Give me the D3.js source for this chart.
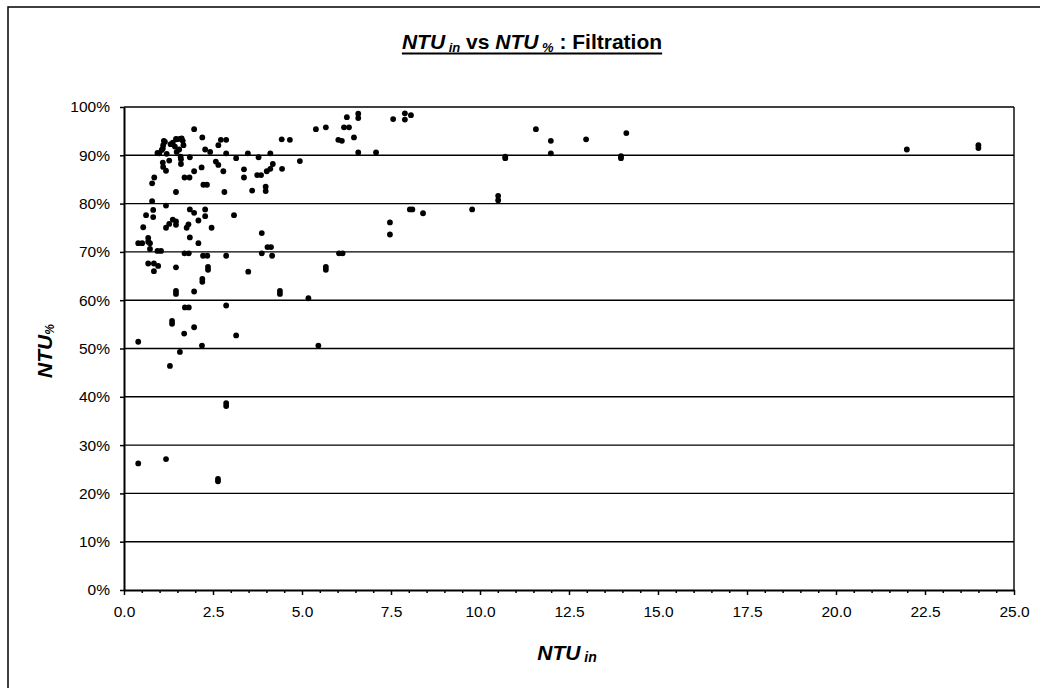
<!DOCTYPE html>
<html>
<head>
<meta charset="utf-8">
<script src="https://cdn.jsdelivr.net/npm/d3@7"></script>
<style>
    body { margin: 0; background: #fff; }
    svg { display: block; font-family: Arial, "Liberation Sans", sans-serif; }
</style>
</head>
<body>
<svg id="chart" width="1040" height="688"></svg>
<script>

// NTU in (x) and NTU % removed (y, as fraction)
const ntuIn = [
    1.97, 2.20, 5.39, 5.67, 6.26, 6.58, 6.58, 6.18, 6.32, 6.46, 6.02, 6.12, 6.58, 7.08, 7.56, 7.89, 8.06, 7.89,
    10.71, 10.71, 11.57, 11.99, 11.99, 12.98, 14.11, 13.96, 13.96, 21.99, 24.00, 24.00, 10.51, 10.51, 9.78,
    8.03, 8.10, 8.40, 7.47, 7.47, 6.04, 6.14, 5.67, 5.67, 5.18, 5.46, 4.94, 4.43, 4.66, 4.11, 4.18, 4.11,
    4.01, 4.44, 3.78, 3.74, 3.85, 3.48, 3.15, 3.37, 3.37, 3.60, 3.98, 3.98, 2.87, 2.58, 2.65, 2.72, 2.87,
    2.65, 2.79, 2.82, 2.28, 2.42, 2.18, 1.97, 1.70, 1.84, 2.23, 2.33, 1.46, 1.85, 0.79, 0.82, 1.18, 0.62,
    0.82, 1.85, 1.97, 2.28, 2.28, 3.09, 1.37, 1.27, 1.46, 2.09, 0.54, 1.18, 1.46, 1.76, 1.81, 2.46, 0.85,
    0.79, 0.40, 0.51, 0.68, 0.68, 0.73, 1.85, 2.09, 0.73, 0.94, 1.04, 1.70, 1.82, 2.22, 2.34, 2.87, 3.87,
    4.03, 4.13, 3.87, 4.16, 0.68, 0.84, 0.96, 0.84, 1.46, 2.36, 2.36, 3.49, 2.20, 2.20, 1.46, 1.46, 1.97,
    4.38, 4.38, 2.87, 1.71, 1.82, 1.35, 1.35, 1.97, 1.69, 3.15, 0.40, 2.19, 1.57, 1.29, 2.87, 2.87, 0.40,
    1.18, 2.64, 2.64, 1.15, 1.10, 1.37, 1.48, 1.57, 1.65, 1.67, 1.43, 1.55, 1.48, 0.99, 0.94, 1.06, 1.20,
    1.27, 1.09, 1.10, 1.18, 1.60, 1.60, 1.12, 1.31, 1.46, 1.62, 1.59, 1.09
];
const ntuPct = [
    .954, .937, .954, .958, .979, .986, .977, .958, .958, .937, .932, .930, .906, .906, .975, .987, .983, .974,
    .894, .897, .954, .930, .904, .933, .946, .894, .898, .912, .921, .915, .816, .807, .788,
    .788, .788, .780, .761, .736, .697, .697, .669, .663, .604, .506, .888, .933, .932, .904, .882, .872,
    .867, .872, .896, .859, .859, .904, .894, .871, .854, .827, .835, .826, .904, .887, .880, .932, .932,
    .921, .867, .824, .912, .907, .875, .867, .854, .854, .839, .839, .824, .896, .805, .787, .796, .776,
    .772, .788, .781, .788, .774, .776, .767, .758, .763, .765, .751, .750, .756, .750, .757, .750, .854,
    .842, .718, .718, .729, .721, .718, .730, .718, .706, .702, .702, .697, .697, .692, .692, .692, .739,
    .710, .710, .697, .692, .676, .676, .671, .660, .668, .669, .663, .659, .644, .638, .619, .613, .618,
    .619, .613, .589, .585, .585, .557, .551, .544, .531, .527, .514, .506, .493, .464, .387, .381, .262,
    .271, .230, .225, .928, .921, .926, .933, .934, .930, .921, .918, .912, .907, .904, .905, .911, .903,
    .889, .885, .876, .868, .892, .882, .930, .923, .934, .935, .897, .914
];

const xTickValues = [0, 2.5, 5, 7.5, 10, 12.5, 15, 17.5, 20, 22.5, 25];
const yTickValues = [0, 0.1, 0.2, 0.3, 0.4, 0.5, 0.6, 0.7, 0.8, 0.9, 1];

let svg = d3.select("#chart");

let plotLeft = 124, plotRight = 1014, plotTop = 107, plotBottom = 590;

let xScale = d3.scaleLinear().domain([0, 25]).range([plotLeft, plotRight]);
let yScale = d3.scaleLinear().domain([0, 1]).range([plotBottom, plotTop]);

// outer chart frame (runs off the page right / bottom)
svg.append("rect")
    .attr("x", 8).attr("y", 7)
    .attr("width", 1100).attr("height", 760)
    .attr("fill", "none")
    .attr("stroke", "#000")
    .attr("stroke-width", 1.5);

// horizontal gridlines
svg.append("g")
    .selectAll("line")
    .data(yTickValues.filter(function (d) { return d > 0; }))
    .enter().append("line")
    .attr("x1", plotLeft).attr("x2", plotRight)
    .attr("y1", function (d) { return yScale(d); })
    .attr("y2", function (d) { return yScale(d); })
    .attr("stroke", "#000")
    .attr("stroke-width", 1.4);

// right edge of plot area
svg.append("line")
    .attr("x1", plotRight).attr("x2", plotRight)
    .attr("y1", plotTop).attr("y2", plotBottom)
    .attr("stroke", "#000").attr("stroke-width", 1.4);

// minor x ticks, 4 between the labelled ones
let minorTicks = [];
xTickValues.forEach(function (v, i) {
    if (i < xTickValues.length - 1) {
        for (let k = 1; k < 5; k++) minorTicks.push(v + k * 0.5);
    }
});

let xMinor = d3.axisBottom(xScale).tickValues(minorTicks).tickSize(3).tickFormat("");
svg.append("g")
    .attr("transform", "translate(0," + plotBottom + ")")
    .call(xMinor)
    .call(function (g) { g.select(".domain").remove(); })
    .selectAll("line").attr("stroke", "#000").attr("stroke-width", 1.5);

let xAxis = d3.axisBottom(xScale)
    .tickValues(xTickValues)
    .tickSize(5)
    .tickSizeOuter(0)
    .tickPadding(11)
    .tickFormat(d3.format(".1f"));

let gx = svg.append("g")
    .attr("transform", "translate(0," + plotBottom + ")")
    .call(xAxis);
gx.select(".domain").attr("stroke", "#000").attr("stroke-width", 2);
gx.selectAll(".tick line").attr("stroke", "#000").attr("stroke-width", 1.5);
gx.selectAll("text").attr("fill", "#000").style("font-size", "15.5px").attr("dy", "0.72em");

let yAxis = d3.axisLeft(yScale)
    .tickValues(yTickValues)
    .tickSize(4)
    .tickSizeOuter(0)
    .tickPadding(10)
    .tickFormat(d3.format(".0%"));

let gy = svg.append("g")
    .attr("transform", "translate(" + plotLeft + ",0)")
    .call(yAxis);
gy.select(".domain").attr("stroke", "#000").attr("stroke-width", 2);
gy.selectAll(".tick line").attr("stroke", "#000").attr("stroke-width", 1.5);
gy.selectAll("text").attr("fill", "#000").style("font-size", "15.5px");

// the points
let points = d3.zip(ntuIn, ntuPct);
svg.append("g")
    .selectAll("circle")
    .data(points)
    .enter().append("circle")
    .attr("cx", function (d) { return xScale(d[0]); })
    .attr("cy", function (d) { return yScale(d[1]); })
    .attr("r", 2.9)
    .attr("fill", "#000");

// title, underlined as one run
let title = svg.append("text")
    .attr("x", 532).attr("y", 49)
    .attr("text-anchor", "middle")
    .style("font-weight", "bold")
    .style("font-size", "21px");
title.append("tspan").style("font-style", "italic").text("NTU");
title.append("tspan").style("font-style", "italic").style("font-size", "13px").attr("dy", 2.5).text(" in");
title.append("tspan").attr("dy", -2.5).text(" vs ");
title.append("tspan").style("font-style", "italic").text("NTU");
title.append("tspan").style("font-style", "italic").style("font-size", "13px").attr("dy", 2.5).text(" %");
title.append("tspan").attr("dy", -2.5).text(" : Filtration");

let tb = title.node().getBBox();
svg.append("line")
    .attr("x1", tb.x).attr("x2", tb.x + tb.width)
    .attr("y1", 53.5).attr("y2", 53.5)
    .attr("stroke", "#000").attr("stroke-width", 1.8);

// x axis title
let xTitle = svg.append("text")
    .attr("x", 567).attr("y", 660)
    .attr("text-anchor", "middle")
    .style("font-weight", "bold").style("font-style", "italic")
    .style("font-size", "21px");
xTitle.append("tspan").text("NTU");
xTitle.append("tspan").style("font-size", "14px").attr("dy", 2).text(" in");

// y axis title
let yTitle = svg.append("text")
    .attr("transform", "translate(52,351) rotate(-90)")
    .attr("text-anchor", "middle")
    .style("font-weight", "bold").style("font-style", "italic")
    .style("font-size", "21px");
yTitle.append("tspan").text("NTU");
yTitle.append("tspan").style("font-size", "12px").attr("dy", 2).text("%");

</script>
</body>
</html>
